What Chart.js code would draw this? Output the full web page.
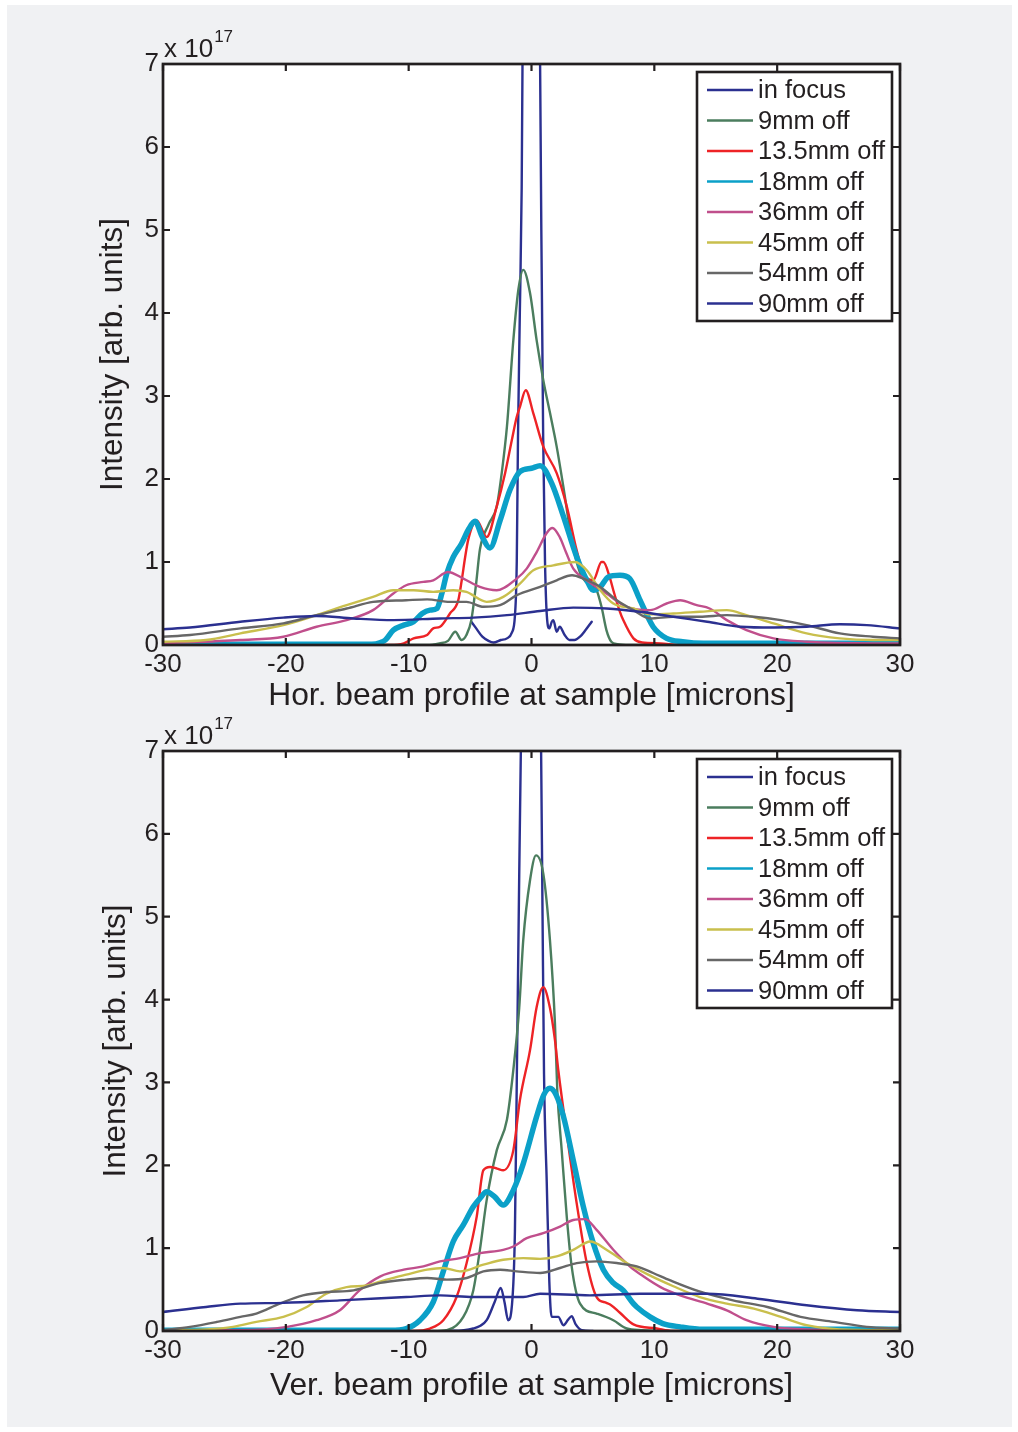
<!DOCTYPE html>
<html>
<head>
<meta charset="utf-8">
<script src="https://cdn.jsdelivr.net/npm/chart.js@4/dist/chart.umd.min.js"></script>
<style>
  html,body{margin:0;padding:0;background:#ffffff;}
  #fig{position:absolute;left:7px;top:5px;width:1005px;height:1422px;background:#f0f1f3;}
  .wrap{position:absolute;left:0;width:1018px;height:716px;}
  canvas{display:block;}
</style>
</head>
<body>
<div id="fig"></div>
<div class="wrap" style="top:0"><canvas id="c1" width="1018" height="716"></canvas></div>
<div class="wrap" style="top:716px"><canvas id="c2" width="1018" height="716"></canvas></div>
<script>
// ---------- labels ----------
const seriesLabels = ["in focus","9mm off","13.5mm off","18mm off","36mm off","45mm off","54mm off","90mm off"];
const seriesColors = ["#2b3090","#4b7d5e","#ee2326","#0ba0c8","#c04f8c","#c9bf4d","#676767","#2b3090"];
const seriesWidths = [2.4,2.4,2.4,5.5,2.4,2.4,2.4,2.4];
const xTicks = [-30,-20,-10,0,10,20,30];
const yTicks = [0,1,2,3,4,5,6,7];
const xTitleHor = "Hor. beam profile at sample [microns]";
const xTitleVer = "Ver. beam profile at sample [microns]";
const yTitle = "Intensity [arb. units]";

// ---------- horizontal profile (units of 1e17) ----------
const hor_inFocus = [[-4.9,0.28],[-4.5,0.2],[-4.0,0.1],[-3.5,0.05],[-3.1,0.03],[-2.5,0.06],[-2.0,0.08],[-1.6,0.15],[-1.35,0.35],[-1.2,1.0],[-1.1,2.5],[-0.95,4.0],[-0.8,5.5],[-0.6,10],[-0.3,14],[0,15],[0.3,14],[0.6,9],[0.8,5.0],[0.95,2.5],[1.1,1.0],[1.25,0.35],[1.45,0.2],[1.65,0.28],[1.78,0.3],[2.05,0.16],[2.3,0.22],[2.7,0.12],[3.1,0.06],[3.5,0.06],[3.95,0.1],[4.4,0.18],[4.9,0.28]];
const hor_9mm = [[-30,0],[-8.5,0],[-7.5,0.02],[-6.8,0.05],[-6.2,0.16],[-5.7,0.06],[-5.3,0.12],[-4.9,0.3],[-4.5,0.75],[-4.2,1.15],[-3.5,1.45],[-2.83,1.67],[-2.4,2.1],[-2.0,2.63],[-1.48,3.67],[-1.07,4.28],[-0.67,4.52],[-0.12,4.24],[0.42,3.67],[0.96,3.19],[1.5,2.8],[2.05,2.39],[2.6,1.9],[3.27,1.27],[3.95,0.87],[4.76,0.72],[5.3,0.66],[5.7,0.46],[6.1,0.18],[6.5,0.04],[7,0.01],[8,0],[30,0]];
const hor_13mm = [[-30,0],[-11.5,0],[-10.4,0.02],[-9.6,0.08],[-8.5,0.12],[-8.0,0.2],[-7.45,0.22],[-6.64,0.38],[-5.96,0.54],[-5.68,0.78],[-5.4,1.06],[-5.15,1.27],[-4.46,1.5],[-3.65,1.3],[-2.83,1.67],[-2.15,2.07],[-1.6,2.47],[-1.2,2.75],[-0.94,2.87],[-0.47,3.07],[0.15,2.79],[0.96,2.39],[2.05,2.07],[2.87,1.67],[3.68,1.14],[4.22,0.87],[5.03,0.78],[5.7,1.0],[5.85,1.0],[6.4,0.8],[6.66,0.66],[7.2,0.4],[7.47,0.3],[8.3,0.08],[9,0.03],[10.5,0.02],[12,0],[30,0]];
const hor_18mm = [[-30,0.01],[-13,0.01],[-12.3,0.03],[-11.9,0.06],[-11.25,0.18],[-10.4,0.24],[-9.6,0.28],[-8.9,0.38],[-8.27,0.42],[-7.7,0.44],[-7.3,0.62],[-6.9,0.86],[-6.37,1.06],[-5.7,1.22],[-5.1,1.4],[-4.6,1.49],[-4.0,1.3],[-3.38,1.17],[-2.56,1.5],[-1.75,1.87],[-0.94,2.09],[0,2.13],[0.7,2.16],[1.64,1.95],[2.6,1.55],[3.68,1.06],[4.5,0.78],[5.03,0.66],[5.6,0.7],[6.25,0.82],[7.2,0.84],[8.0,0.8],[8.84,0.54],[9.9,0.22],[11.0,0.08],[12.3,0.04],[14,0.02],[30,0.02]];
const hor_36mm = [[-30,0.02],[-23.7,0.06],[-20.2,0.1],[-17.5,0.22],[-15.05,0.3],[-12.9,0.42],[-11.25,0.62],[-10.2,0.72],[-8.8,0.76],[-8.0,0.78],[-6.8,0.88],[-5.55,0.8],[-4.2,0.7],[-2.83,0.66],[-1.2,0.8],[-0.39,0.92],[0.42,1.12],[1.24,1.35],[1.7,1.41],[2.3,1.3],[2.8,1.12],[3.4,0.92],[4.5,0.78],[6.1,0.62],[7.75,0.46],[9.65,0.42],[11.0,0.5],[12.1,0.54],[13.45,0.48],[14.5,0.44],[15.9,0.3],[17.5,0.18],[19.7,0.08],[22.4,0.04],[27.8,0.02],[30,0.02]];
const hor_45mm = [[-30,0.04],[-26.5,0.06],[-23.7,0.14],[-20.2,0.24],[-17.5,0.36],[-15.05,0.48],[-12.9,0.58],[-11.25,0.66],[-9.6,0.66],[-8.0,0.64],[-6.37,0.66],[-5.3,0.64],[-3.65,0.52],[-2.3,0.58],[-0.94,0.74],[0.15,0.9],[1.78,0.96],[3.54,1.0],[4.5,0.9],[5.6,0.66],[6.66,0.5],[8.3,0.44],[9.65,0.37],[11.55,0.38],[13.7,0.4],[15.9,0.42],[17.5,0.36],[19.7,0.26],[22.4,0.14],[25.1,0.08],[27.8,0.06],[30,0.06]];
const hor_54mm = [[-30,0.1],[-27.8,0.12],[-23.7,0.2],[-20.2,0.26],[-17.5,0.36],[-15.05,0.44],[-12.9,0.52],[-10.2,0.54],[-8.5,0.55],[-6.64,0.52],[-5.3,0.52],[-3.9,0.46],[-2.56,0.48],[-1.2,0.6],[0.7,0.7],[2.05,0.78],[3.3,0.84],[4.22,0.8],[5.6,0.7],[6.94,0.54],[8.3,0.42],[9.65,0.32],[11.55,0.34],[13.7,0.34],[15.9,0.36],[18.1,0.34],[20.3,0.3],[22.4,0.24],[25.1,0.14],[27.8,0.1],[30,0.08]];
const hor_90mm = [[-30,0.19],[-27.8,0.21],[-23.7,0.28],[-20.2,0.33],[-17.5,0.35],[-14.5,0.32],[-11.25,0.3],[-7.45,0.32],[-4.74,0.33],[-2.0,0.36],[0.7,0.41],[3.4,0.45],[6.1,0.44],[8.84,0.4],[11.55,0.34],[14.3,0.28],[17.0,0.22],[19.7,0.21],[22.4,0.22],[25.1,0.25],[27.3,0.24],[30,0.2]];

// ---------- vertical profile (units of 1e17) ----------
const ver_inFocus = [[-7,0],[-5.5,0.01],[-4.74,0.03],[-4.2,0.06],[-3.65,0.13],[-3.0,0.35],[-2.5,0.52],[-2.2,0.35],[-1.9,0.13],[-1.6,0.3],[-1.35,1.2],[-1.2,3.0],[-1.0,5.5],[-0.85,7.2],[-0.5,11],[0,12],[0.4,11],[0.77,7.2],[0.9,5],[1.02,3.1],[1.24,1.8],[1.45,0.6],[1.64,0.17],[2.18,0.17],[2.6,0.07],[3.0,0.14],[3.27,0.18],[3.6,0.08],[4.09,0.01],[5,0]];
const ver_9mm = [[-30,0],[-8,0],[-6.9,0.01],[-5.55,0.17],[-4.74,0.49],[-4.2,0.98],[-3.65,1.58],[-2.83,2.18],[-2.0,2.55],[-1.48,3.15],[-1.0,3.9],[-0.67,4.72],[-0.12,5.44],[0.37,5.74],[0.96,5.52],[1.5,4.72],[1.91,3.71],[2.1,2.9],[2.46,2.18],[2.87,1.38],[3.27,0.78],[3.95,0.33],[5.3,0.21],[6.66,0.13],[7.75,0.03],[9,0.01],[10.5,0],[30,0]];
const ver_13mm = [[-30,0],[-9.5,0],[-8.27,0.03],[-7.18,0.13],[-6.1,0.41],[-5.28,0.82],[-4.46,1.38],[-3.92,1.94],[-3.38,1.98],[-2.8,1.96],[-2.3,1.94],[-1.48,2.18],[-0.94,2.79],[-0.12,3.39],[0.42,3.91],[0.96,4.15],[1.5,3.9],[1.91,3.51],[2.18,3.15],[2.87,2.38],[3.68,1.54],[4.5,0.82],[5.3,0.41],[6.1,0.34],[6.4,0.32],[7.2,0.22],[8.3,0.08],[10.2,0.03],[11.5,0],[30,0]];
const ver_18mm = [[-30,0.01],[-11.5,0.01],[-10.2,0.03],[-9.08,0.13],[-8.0,0.35],[-7.18,0.72],[-6.37,1.08],[-5.55,1.28],[-4.74,1.5],[-4.2,1.6],[-3.65,1.68],[-3.0,1.62],[-2.3,1.52],[-1.48,1.7],[-0.67,2.02],[0.42,2.59],[1.0,2.85],[1.5,2.93],[2.0,2.85],[2.6,2.59],[3.4,2.06],[4.22,1.5],[5.03,1.06],[5.85,0.74],[6.66,0.58],[7.47,0.49],[8.3,0.33],[8.57,0.29],[9.65,0.17],[10.7,0.09],[12.1,0.05],[14,0.02],[30,0.02]];
const ver_36mm = [[-30,0.01],[-23.7,0.01],[-19.9,0.05],[-17.5,0.13],[-15.6,0.25],[-14.0,0.49],[-12.3,0.66],[-10.4,0.74],[-8.8,0.78],[-7.45,0.84],[-5.82,0.88],[-4.2,0.94],[-2.3,0.98],[-1.48,1.02],[-0.39,1.12],[0.96,1.18],[2.32,1.26],[3.4,1.34],[4.36,1.35],[5.3,1.22],[6.66,0.98],[8.0,0.78],[9.1,0.66],[10.5,0.53],[12.1,0.43],[14.3,0.33],[15.9,0.25],[17.5,0.13],[19.7,0.05],[22.4,0.02],[30,0.01]];
const ver_45mm = [[-30,0.01],[-26.5,0.02],[-24.3,0.05],[-22.4,0.11],[-20.2,0.17],[-18.3,0.29],[-16.7,0.45],[-15.05,0.53],[-13.4,0.55],[-11.8,0.62],[-10.2,0.68],[-8.5,0.74],[-7.18,0.76],[-5.82,0.72],[-3.92,0.8],[-2.3,0.86],[-0.67,0.88],[0.7,0.87],[2.05,0.9],[3.4,0.98],[4.8,1.08],[6.1,0.98],[7.75,0.82],[9.5,0.68],[11.55,0.54],[13.7,0.41],[15.9,0.33],[18.1,0.27],[20.3,0.17],[22.4,0.07],[25.1,0.02],[30,0.01]];
const ver_54mm = [[-30,0.01],[-27.8,0.05],[-25.6,0.11],[-23.7,0.17],[-22.4,0.21],[-20.5,0.33],[-18.6,0.43],[-16.7,0.47],[-14.5,0.49],[-12.3,0.58],[-10.2,0.62],[-8.5,0.64],[-6.9,0.62],[-5.28,0.64],[-3.92,0.72],[-2.56,0.74],[-1.2,0.72],[0.7,0.7],[2.32,0.76],[3.68,0.82],[5.3,0.84],[6.94,0.82],[8.57,0.78],[9.9,0.7],[11.3,0.61],[13.6,0.48],[16.4,0.37],[19.2,0.29],[21.9,0.17],[24.6,0.11],[27.3,0.05],[30,0.03]];
const ver_90mm = [[-30,0.23],[-26.5,0.29],[-23.7,0.33],[-20.2,0.34],[-15.6,0.37],[-10.2,0.41],[-7.45,0.43],[-4.74,0.41],[-0.67,0.41],[0.7,0.45],[4.76,0.43],[8.84,0.45],[14.3,0.45],[18.4,0.39],[22.4,0.31],[26.5,0.25],[30,0.23]];

const horSeries = [hor_inFocus,hor_9mm,hor_13mm,hor_18mm,hor_36mm,hor_45mm,hor_54mm,hor_90mm];
const verSeries = [ver_inFocus,ver_9mm,ver_13mm,ver_18mm,ver_36mm,ver_45mm,ver_54mm,ver_90mm];

const FONT = "'Liberation Sans', Arial, Helvetica, sans-serif";
const INK = "#231f20";

function buildDatasets(series){
  return series.map((pts,i)=>({
    label: seriesLabels[i],
    data: pts.map(p=>({x:p[0],y:p[1]})),
    borderColor: seriesColors[i],
    backgroundColor: seriesColors[i],
    borderWidth: seriesWidths[i],
    pointRadius: 0,
    fill: false,
    cubicInterpolationMode: 'monotone',
    borderJoinStyle: 'round',
    borderCapStyle: 'round',
    order: series.length - i
  }));
}

const framePlugin = {
  id: 'matlabFrame',
  beforeDraw(chart){
    const {ctx, chartArea:a} = chart;
    ctx.save();
    ctx.fillStyle = '#ffffff';
    ctx.fillRect(a.left, a.top, a.right-a.left, a.bottom-a.top);
    ctx.restore();
  },
  afterDatasetsDraw(chart){
    const {ctx, chartArea:a, scales} = chart;
    ctx.save();
    // legend
    const lx0 = a.right - 203, ly0 = a.top + 8, lw = 195, lh = 249;
    ctx.fillStyle = '#ffffff';
    ctx.fillRect(lx0, ly0, lw, lh);
    chart.data.datasets.forEach((ds,i)=>{
      const cy = ly0 + 18 + i*30.5;
      ctx.strokeStyle = ds.borderColor;
      ctx.lineWidth = 2.4;
      ctx.beginPath(); ctx.moveTo(lx0+10, cy); ctx.lineTo(lx0+56, cy); ctx.stroke();
      ctx.fillStyle = INK;
      ctx.font = "25.5px " + FONT;
      ctx.textBaseline = 'middle';
      ctx.textAlign = 'left';
      ctx.fillText(ds.label, lx0+61, cy+1);
    });
    ctx.strokeStyle = INK;
    ctx.lineWidth = 2.6;
    ctx.strokeRect(lx0, ly0, lw, lh);
    // axes box
    ctx.lineWidth = 2.7;
    ctx.strokeRect(a.left, a.top, a.right-a.left, a.bottom-a.top);
    // inward ticks
    ctx.lineWidth = 2.2;
    const tl = 7;
    xTicks.forEach(v=>{
      const px = scales.x.getPixelForValue(v);
      ctx.beginPath();
      ctx.moveTo(px, a.bottom); ctx.lineTo(px, a.bottom - tl);
      ctx.moveTo(px, a.top); ctx.lineTo(px, a.top + tl);
      ctx.stroke();
    });
    yTicks.forEach(v=>{
      const py = scales.y.getPixelForValue(v);
      ctx.beginPath();
      ctx.moveTo(a.left, py); ctx.lineTo(a.left + tl, py);
      ctx.moveTo(a.right, py); ctx.lineTo(a.right - tl, py);
      ctx.stroke();
    });
    // exponent label
    ctx.fillStyle = INK;
    ctx.textAlign = 'left';
    ctx.textBaseline = 'alphabetic';
    ctx.font = "26px " + FONT;
    const base = "x 10";
    ctx.fillText(base, a.left + 1, a.top - 7);
    const w = ctx.measureText(base).width;
    ctx.font = "17px " + FONT;
    ctx.fillText("17", a.left + 2 + w, a.top - 22);
    ctx.restore();
  }
};

function makeChart(id, series, xTitle, topPad, xAxisH, xTitlePadB, yTitlePadT){
  return new Chart(document.getElementById(id), {
    type: 'line',
    data: { datasets: buildDatasets(series) },
    options: {
      responsive: false,
      animation: false,
      events: [],
      layout: { padding: { top: topPad, right: 118, left: 0, bottom: 0 } },
      plugins: { legend: { display: false }, tooltip: { enabled: false } },
      scales: {
        x: {
          type: 'linear', min: -30, max: 30,
          afterBuildTicks: s => { s.ticks = xTicks.map(v=>({value:v})); },
          ticks: { font: { size: 26, family: FONT }, color: INK, padding: 4, maxRotation: 0, autoSkip: false },
          grid: { display: false, drawTicks: false },
          border: { display: false },
          title: { display: true, text: xTitle, color: INK, font: { size: 31.8, family: FONT }, padding: { top: 0, bottom: xTitlePadB } },
          afterFit: s => { s.height = xAxisH; }
        },
        y: {
          type: 'linear', min: 0, max: 7,
          afterBuildTicks: s => { s.ticks = yTicks.map(v=>({value:v})); },
          ticks: { font: { size: 26, family: FONT }, color: INK, padding: 4 },
          grid: { display: false, drawTicks: false },
          border: { display: false },
          title: { display: true, text: yTitle, color: INK, font: { size: 31.5, family: FONT }, padding: { top: yTitlePadT, bottom: 0 } },
          afterFit: s => { s.width = 163; }
        }
      }
    },
    plugins: [framePlugin]
  });
}

makeChart('c1', horSeries, xTitleHor, 64, 71, 0.5, 94.5);
makeChart('c2', verSeries, xTitleVer, 35, 101, 26.5, 97.5);
</script>
</body>
</html>
